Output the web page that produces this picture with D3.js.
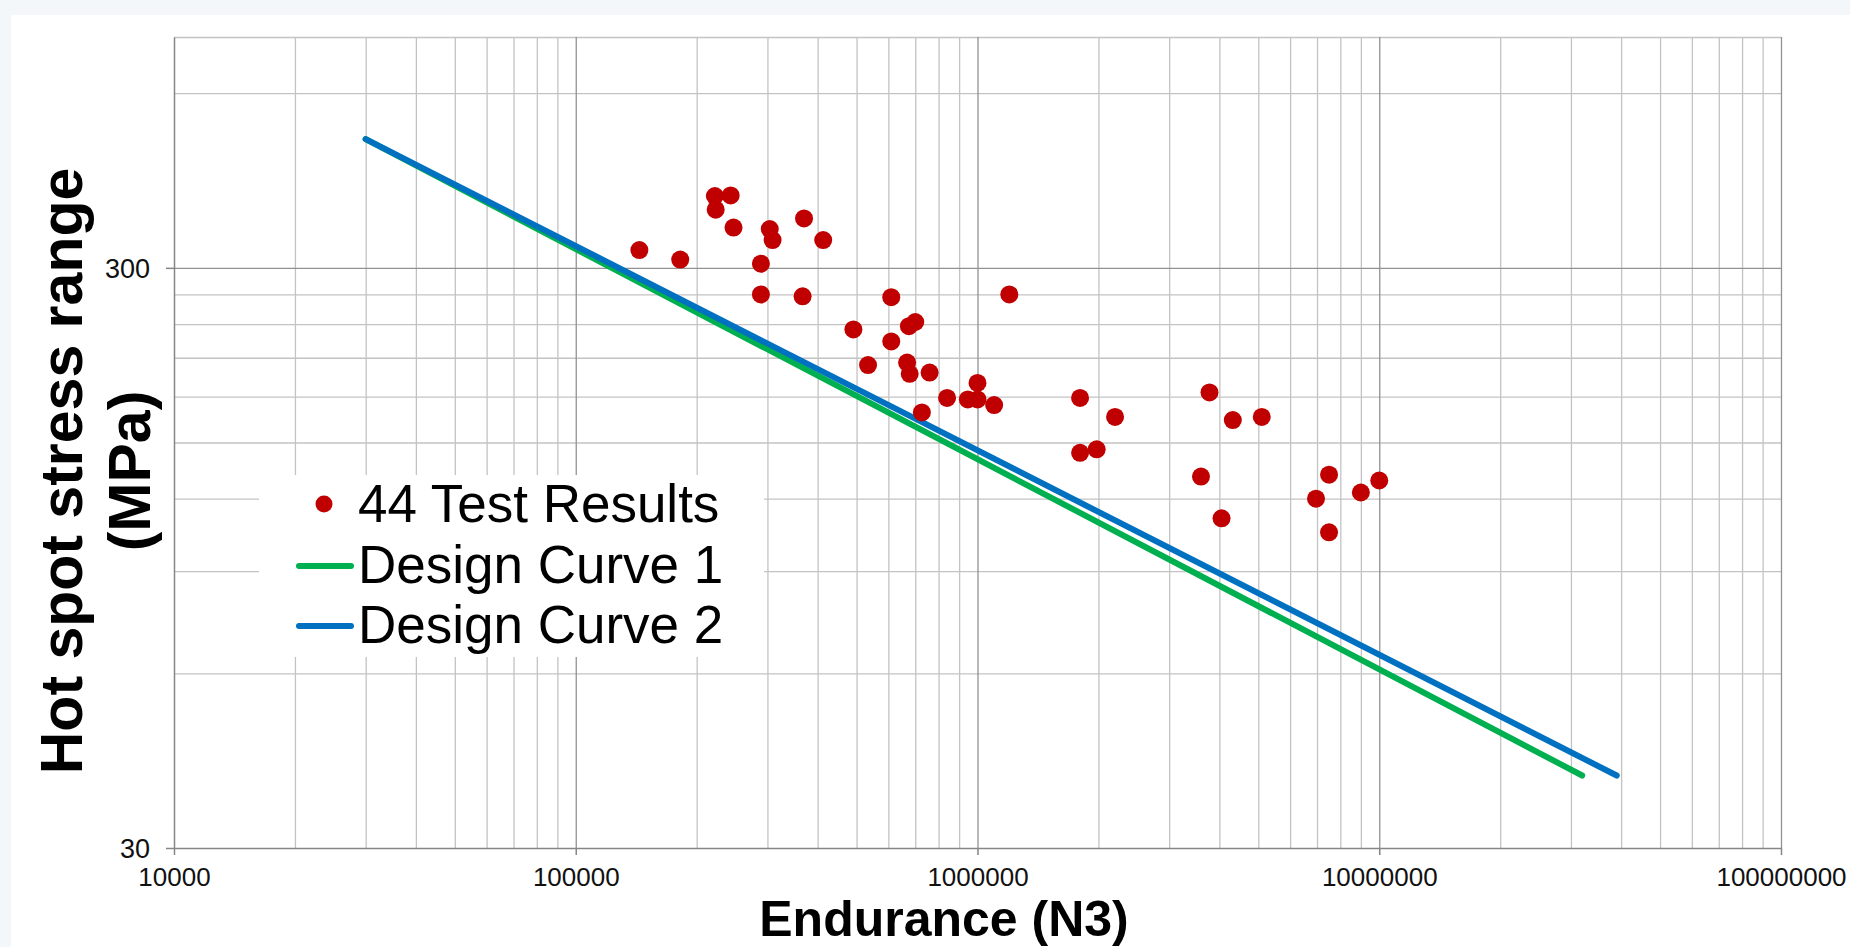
<!DOCTYPE html>
<html>
<head>
<meta charset="utf-8">
<script src="https://cdn.jsdelivr.net/npm/d3@7"></script>
<style>
  body { margin: 0; background: #f3f7fa; }
  svg { display: block; font-family: "Liberation Sans", Arial, sans-serif; }
</style>
</head>
<body>
<svg id="chart" width="1850" height="947"></svg>
<script>
"use strict";

// test results: endurance (cycles) and hot spot stress range (MPa)
const testN = [1.44e5, 1.82e5, 2.22e5, 2.43e5, 2.23e5, 2.47e5, 3.04e5, 3.09e5, 3.70e5, 4.13e5,
  2.89e5, 2.89e5, 3.67e5, 6.1e5, 1.2e6, 4.91e5, 7.0e5, 6.75e5, 6.1e5, 5.34e5,
  6.68e5, 6.78e5, 7.6e5, 1.0e6, 9.46e5, 1.0e6, 8.4e5, 1.1e6, 7.27e5, 1.8e6,
  2.2e6, 1.8e6, 1.98e6, 3.78e6, 4.32e6, 5.1e6, 3.6e6, 4.05e6, 7.5e6, 6.96e6,
  9.0e6, 1.0e7, 7.5e6];
const testS = [322, 310, 399, 400, 378, 352, 350, 335, 365, 335,
  305, 270, 268, 267, 270, 235, 242, 238, 224, 204,
  206, 197, 198, 190, 178, 178, 179, 174, 169, 179,
  166, 144, 146, 183, 164, 166, 131, 111, 132, 120,
  123, 129, 105];

// design curves (end points)
const curve1N = [3e4, 3.2e7];
const curve1S = [500, 40];
const curve2N = [3e4, 3.9e7];
const curve2S = [500, 40];

const xTicks = [1e4, 1e5, 1e6, 1e7, 1e8];
const yTicks = [30, 300];
const legendLabels = ["44 Test Results", "Design Curve 1", "Design Curve 2"];

const mLeft = 174, mRight = 1781, mTop = 37, mBottom = 848;

const svg = d3.select("#chart");

// white card
svg.append("rect")
    .attr("x", 11).attr("y", 15)
    .attr("width", 1850 - 11).attr("height", 947 - 15)
    .attr("fill", "#fff");

const x = d3.scaleLog().domain([1e4, 1e8]).range([mLeft, mRight]);
const y = d3.scaleLog().domain([30, 750]).range([mBottom, mTop]);

// minor / major grid values
const xMinor = [];
for (let d = 4; d < 8; d++) for (let k = 2; k <= 9; k++) xMinor.push(k * Math.pow(10, d));
const yMinor = [];
for (let k = 2; k <= 9; k++) yMinor.push(30 * k);
yMinor.push(600, 750);

const grid = svg.append("g");

grid.append("g")
    .attr("transform", `translate(0,${mBottom})`)
    .call(d3.axisBottom(x).tickValues(xMinor).tickSize(-(mBottom - mTop)).tickFormat(""))
    .call(g => g.select(".domain").remove())
    .selectAll("line").attr("stroke", "#c3c3c3").attr("stroke-width", 1.3);

grid.append("g")
    .attr("transform", `translate(${mLeft},0)`)
    .call(d3.axisLeft(y).tickValues(yMinor).tickSize(-(mRight - mLeft)).tickFormat(""))
    .call(g => g.select(".domain").remove())
    .selectAll("line").attr("stroke", "#c3c3c3").attr("stroke-width", 1.3);

grid.append("g")
    .attr("transform", `translate(0,${mBottom})`)
    .call(d3.axisBottom(x).tickValues(xTicks.slice(1)).tickSize(-(mBottom - mTop)).tickFormat(""))
    .call(g => g.select(".domain").remove())
    .selectAll("line").attr("stroke", "#929292").attr("stroke-width", 1.3);

grid.append("g")
    .attr("transform", `translate(${mLeft},0)`)
    .call(d3.axisLeft(y).tickValues([300]).tickSize(-(mRight - mLeft)).tickFormat(""))
    .call(g => g.select(".domain").remove())
    .selectAll("line").attr("stroke", "#929292").attr("stroke-width", 1.3);

// axes
const xAxis = svg.append("g")
    .attr("transform", `translate(0,${mBottom})`)
    .call(d3.axisBottom(x).tickValues(xTicks).tickSize(7).tickSizeOuter(0).tickFormat(d3.format("d")));
xAxis.select(".domain").attr("stroke", "#868686").attr("stroke-width", 1.5);
xAxis.selectAll("line").attr("stroke", "#868686").attr("stroke-width", 1.5);
xAxis.selectAll("text")
    .attr("y", 0).attr("dy", null)
    .attr("transform", "translate(0,38)")
    .attr("fill", "#111").style("font-size", "26px");

const yAxis = svg.append("g")
    .attr("transform", `translate(${mLeft},0)`)
    .call(d3.axisLeft(y).tickValues(yTicks).tickSize(8).tickSizeOuter(0).tickFormat(d3.format("d")));
yAxis.select(".domain").attr("stroke", "#868686").attr("stroke-width", 1.5);
yAxis.selectAll("line").attr("stroke", "#868686").attr("stroke-width", 1.5);
yAxis.selectAll("text")
    .attr("x", -24).attr("dy", "0.35em")
    .attr("fill", "#111").style("font-size", "27px");

// design curves
const line = d3.line().x(d => x(d[0])).y(d => y(d[1]));

svg.append("path")
    .datum(d3.zip(curve1N, curve1S))
    .attr("d", line)
    .attr("fill", "none").attr("stroke", "#00b050")
    .attr("stroke-width", 6).attr("stroke-linecap", "round");

svg.append("path")
    .datum(d3.zip(curve2N, curve2S))
    .attr("d", line)
    .attr("fill", "none").attr("stroke", "#0070c0")
    .attr("stroke-width", 6).attr("stroke-linecap", "round");

// test points
svg.append("g")
  .selectAll("circle")
  .data(d3.zip(testN, testS))
  .join("circle")
    .attr("cx", d => x(d[0]))
    .attr("cy", d => y(d[1]))
    .attr("r", 9)
    .attr("fill", "#c00000");

// legend
const legend = svg.append("g");
legend.append("rect")
    .attr("x", 259).attr("y", 475)
    .attr("width", 505).attr("height", 182)
    .attr("fill", "#fff");

legend.append("circle")
    .attr("cx", 324).attr("cy", 504).attr("r", 8.5)
    .attr("fill", "#c00000");
legend.append("line")
    .attr("x1", 299).attr("x2", 351).attr("y1", 566).attr("y2", 566)
    .attr("stroke", "#00b050").attr("stroke-width", 6).attr("stroke-linecap", "round");
legend.append("line")
    .attr("x1", 299).attr("x2", 351).attr("y1", 626).attr("y2", 626)
    .attr("stroke", "#0070c0").attr("stroke-width", 6).attr("stroke-linecap", "round");

legend.selectAll("text")
  .data(legendLabels)
  .join("text")
    .attr("x", 358)
    .attr("y", (d, i) => 522 + i * 60.5)
    .style("font-size", "53px")
    .attr("fill", "#000")
    .text(d => d);

// axis titles
svg.append("text")
    .attr("x", 944).attr("y", 936)
    .attr("text-anchor", "middle")
    .style("font-size", "50px").style("font-weight", "bold")
    .text("Endurance (N3)");

const yTitle = ["Hot spot stress range", "(MPa)"];
svg.selectAll(".ytitle")
  .data(yTitle)
  .join("text")
    .attr("class", "ytitle")
    .attr("transform", (d, i) => `translate(${82 + i * 68},471) rotate(-90)`)
    .attr("text-anchor", "middle")
    .style("font-size", "59px").style("font-weight", "bold")
    .text(d => d);
</script>
</body>
</html>
